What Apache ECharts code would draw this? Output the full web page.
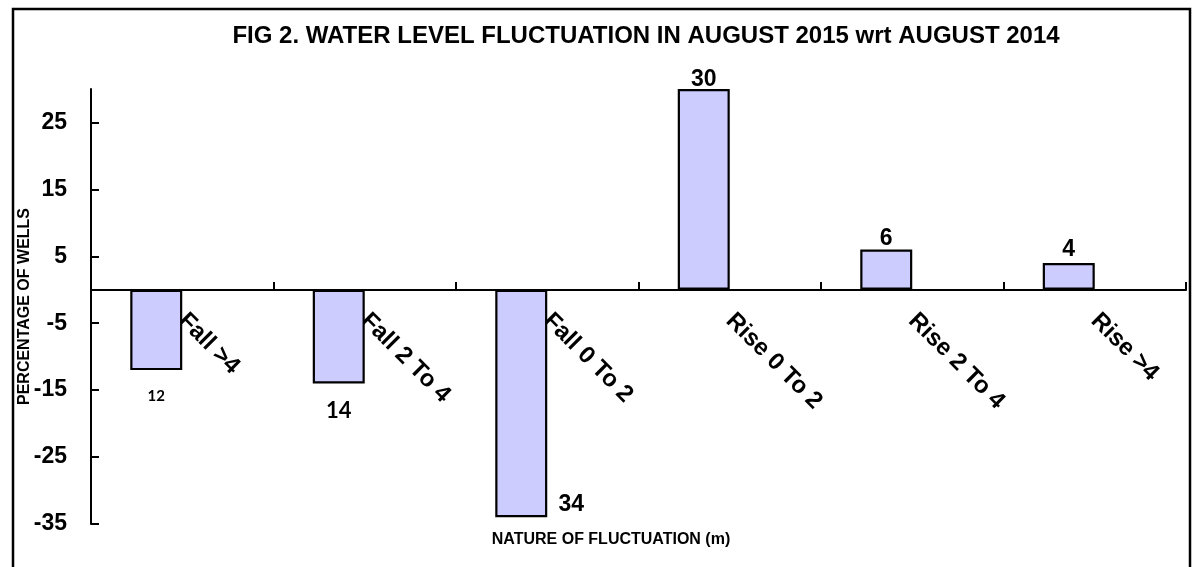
<!DOCTYPE html>
<html>
<head>
<meta charset="utf-8">
<script src="https://cdn.jsdelivr.net/npm/echarts@6/dist/echarts.min.js"></script>
<style>
  html, body { margin: 0; padding: 0; background: #fff; }
  #chart { width: 1192px; height: 567px; }
</style>
</head>
<body>
<div id="chart"></div>
<script type="text/javascript">
	// data
	var categories = ['Fall >4', 'Fall 2 To 4', 'Fall 0 To 2', 'Rise 0 To 2', 'Rise 2 To 4', 'Rise >4'];
	var percentWells = [-12, -14, -34, 30, 6, 4];
	var yTicks = [-35, -25, -15, -5, 5, 15, 25];

	var font = "'Liberation Sans', Arial, sans-serif";

	// label look for each bar, same order as categories
	var labelStyles = [
		{ position: 'bottom', distance: 19, fontSize: 15, fontFamily: 'Lato, sans-serif' },
		{ position: 'bottom', distance: 16, fontSize: 22, fontFamily: 'Lato, sans-serif' },
		{ position: 'bottom', distance: 0, offset: [50, -24], fontSize: 23 },
		{ position: 'top', distance: -2, fontSize: 23 },
		{ position: 'top', distance: -1, fontSize: 23 },
		{ position: 'top', distance: 2, fontSize: 23 }
	];

	var barData = [];
	for (var i = 0; i < percentWells.length; i++) {
		barData.push({ value: percentWells[i], label: labelStyles[i] });
	}

	var chart = echarts.init(document.getElementById('chart'));

	var option = {
		animation: false,
		textStyle: { fontFamily: font },
		grid: { left: 91, right: 6, top: 89, bottom: 43, containLabel: false, outerBoundsMode: 'none' },
		xAxis: {
			type: 'category',
			data: categories,
			position: 'bottom',
			offset: -234,   // put the category axis on the zero line
			axisLine: { onZero: false, lineStyle: { color: '#000', width: 2 } },
			axisTick: { show: true, inside: true, length: 8, interval: 0, lineStyle: { color: '#000', width: 2 } },
			axisLabel: {
				interval: 0,
				rotate: -45,
				margin: 27,
				color: '#000',
				fontWeight: 'bold',
				fontSize: 24,
				fontFamily: font
			},
			splitLine: { show: false }
		},
		yAxis: {
			type: 'value',
			min: -35,
			max: 30,
			name: 'PERCENTAGE OF WELLS',
			nameLocation: 'middle',
			nameRotate: 90,
			nameGap: 58,
			nameMoveOverlap: false,
			nameTextStyle: { color: '#000', fontWeight: 'bold', fontSize: 16, fontFamily: font },
			axisLine: { show: true, lineStyle: { color: '#000', width: 2 } },
			axisTick: { show: true, inside: true, length: 8, customValues: yTicks, lineStyle: { color: '#000', width: 2 } },
			axisLabel: {
				customValues: yTicks,
				margin: 24,
				color: '#000',
				fontWeight: 'bold',
				fontSize: 23,
				fontFamily: font
			},
			splitLine: { show: false }
		},
		series: [
			{
				name: 'percentage',
				type: 'bar',
				barWidth: 52,
				barGap: '0%',
				data: barData,
				itemStyle: { color: '#CCCCFF', borderColor: '#000', borderWidth: 2.2 },
				label: {
					show: true,
					color: '#000',
					fontWeight: 'bold',
					fontFamily: font,
					formatter: function (p) { return Math.abs(p.value); }
				}
			},
			{
				// empty second slot, as in the original chart the bars sit left of centre
				name: 'blank',
				type: 'bar',
				barWidth: 52,
				barGap: '0%',
				data: categories.map(function () { return null; })
			}
		],
		graphic: [
			{
				type: 'rect',
				silent: true,
				shape: { x: 13, y: 9, width: 1177, height: 700 },
				style: { fill: 'none', stroke: '#000', lineWidth: 2.5 }
			},
			{
				type: 'text',
				x: 646, y: 36,
				style: {
					text: 'FIG 2. WATER LEVEL FLUCTUATION IN AUGUST 2015 wrt AUGUST 2014',
					fill: '#000', font: 'bold 24px ' + font,
					textAlign: 'center', textVerticalAlign: 'middle'
				}
			},
			{
				type: 'text',
				x: 611, y: 540,
				style: {
					text: 'NATURE OF FLUCTUATION (m)',
					fill: '#000', font: 'bold 16px ' + font,
					textAlign: 'center', textVerticalAlign: 'middle'
				}
			}
		]
	};

	chart.setOption(option);
</script>
</body>
</html>
